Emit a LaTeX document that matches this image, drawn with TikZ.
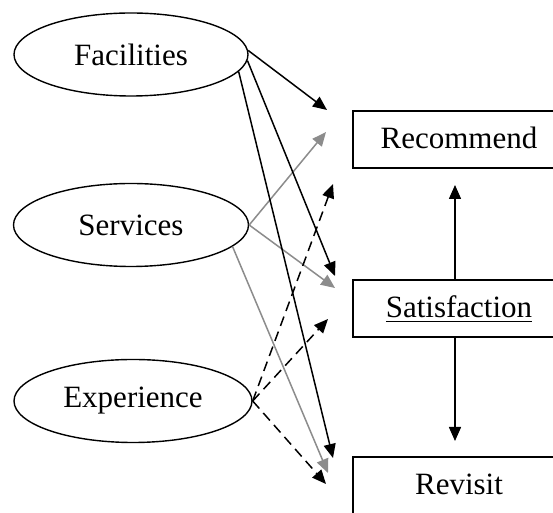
\documentclass[tikz,border=0pt]{standalone}
\usepackage{fontspec}
\setmainfont{Liberation Serif}
\usetikzlibrary{shapes.geometric,arrows.meta}
\definecolor{linegray}{RGB}{140,140,140}
\begin{document}
\begin{tikzpicture}[x=0.5pt,y=-0.5pt,
  every node/.style={font=\fontsize{15.5}{18}\selectfont},
  oval/.style={draw,ellipse,line width=0.7pt,inner sep=0pt,minimum height=41.5pt},
  stepbox/.style={draw,rectangle,line width=0.7pt,inner sep=0pt,minimum width=106pt,
     text height=19pt,text depth=9.5pt,anchor=base},
  arr/.style={line width=0.75pt,-{Triangle[length=7pt,width=6pt]}},
  grayarr/.style={line width=0.75pt,draw=linegray,-{Triangle[length=7pt,width=6pt]},linegray},
  dasharr/.style={arr,dash pattern=on 5pt off 3pt}]
\useasboundingbox (0,0) rectangle (553,513);
\clip (0,0) rectangle (553,513);
\fill[white] (0,0) rectangle (553,513);

\node[oval,minimum width=117pt] (fac) at (131,54.5) {Facilities};
\node[oval,minimum width=117.5pt] (srv) at (131,225) {Services};
\node[oval,minimum width=119pt] (exp) at (133,401) {Experience};

\node[stepbox] (rec) at (459,149) {Recommend};
\node[stepbox] (sat) at (459,318) {\underline{Satisfaction}};
\node[stepbox,text depth=15pt] (rev) at (459,495) {Revisit};

\coordinate (fR) at (327,110);
\coordinate (sR) at (326,132);
\coordinate (eR) at (333,184);
\coordinate (fS) at (335,276);
\coordinate (sS) at (335,288);
\coordinate (eS) at (328,319);
\coordinate (fV) at (333,458);
\coordinate (sV) at (328,473);
\coordinate (eV) at (326,484);
\coordinate (up) at (455,185);
\coordinate (dn) at (455,441);

\draw[grayarr] (srv.east) -- (sR);
\draw[grayarr] (srv.east) -- (sS);
\draw[grayarr] (srv.-12) -- (sV);
\draw[arr] (fac.2) -- (fR);
\draw[arr] (fac.-3) -- (fS);
\draw[arr] (fac.-9) -- (fV);
\draw[dasharr] (exp.east) -- (eR);
\draw[dasharr] (exp.east) -- (eS);
\draw[dasharr] (exp.east) -- (eV);

\draw[arr] (sat.north -| up) -- (up);
\draw[arr] (sat.south -| dn) -- (dn);
\end{tikzpicture}
\end{document}
